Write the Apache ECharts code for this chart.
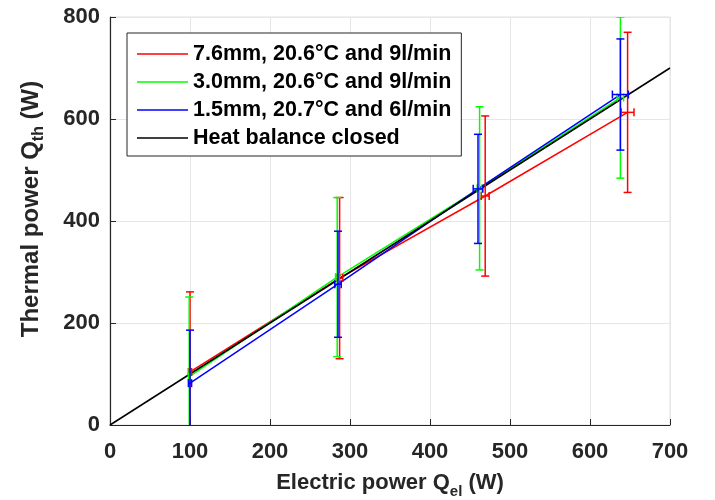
<!DOCTYPE html>
<html>
<head>
<meta charset="utf-8">
<script src="https://cdn.jsdelivr.net/npm/echarts@6/dist/echarts.min.js"></script>
<style>html,body{margin:0;padding:0;background:#fff;}#c{width:715px;height:500px;}</style>
</head>
<body>
<div id="c"></div>
<script>
// Series names
const names = ['7.6mm, 20.6°C and 9l/min', '3.0mm, 20.6°C and 9l/min', '1.5mm, 20.7°C and 6l/min', 'Heat balance closed'];
// Red: 7.6mm
const redX = [100, 287, 469, 647];
const redY = [104, 288, 449, 613];
const redYErr = [157, 158, 157, 157];
const redXErr = [2, 4, 5, 8];
// Green: 3.0mm
const greenX = [99, 284, 462, 638];
const greenY = [95, 290, 464, 642];
const greenYErr = [156, 156, 160, 158];
const greenXErr = [1, 2, 3, 4];
// Blue: 1.5mm
const blueX = [100, 285, 460, 638];
const blueY = [82, 276, 463, 648];
const blueYErr = [104, 104, 107, 109];
const blueXErr = [2, 4, 6, 10];
// Heat balance closed line
const balanceX = [0, 700];
const balanceY = [0, 700];
// Axis ticks
const xTicks = [0, 100, 200, 300, 400, 500, 600, 700];
const yTicks = [0, 200, 400, 600, 800];

const FONT = 'Liberation Sans';
const TXT = '#262626';

function pairs(xs, ys) { return xs.map((x, i) => [x, ys[i]]); }
function errData(xs, ys, ye, xe) { return xs.map((x, i) => [x, ys[i], ye[i], xe[i]]); }

function errRender(color) {
  return function (params, api) {
    const x = api.value(0), y = api.value(1), ey = api.value(2), ex = api.value(3);
    const t = api.coord([x, y + ey]), b = api.coord([x, y - ey]);
    const l = api.coord([x - ex, y]), r = api.coord([x + ex, y]);
    const c = 4;
    const st = { stroke: color, lineWidth: 1.5 };
    const ln = (x1, y1, x2, y2) => ({ type: 'line', shape: { x1, y1, x2, y2 }, style: st });
    return {
      type: 'group',
      children: [
        ln(t[0], t[1], b[0], b[1]),
        ln(t[0] - c, t[1], t[0] + c, t[1]),
        ln(b[0] - c, b[1], b[0] + c, b[1]),
        ln(l[0], l[1], r[0], r[1]),
        ln(l[0], l[1] - c, l[0], l[1] + c),
        ln(r[0], r[1] - c, r[0], r[1] + c)
      ]
    };
  };
}

const colors = ['#ff0000', '#00ff00', '#0000ff', '#000000'];
const lineSeries = (name, data, color) => ({
  name, type: 'line', data, symbol: 'none', showSymbol: false,
  lineStyle: { color, width: 1.5 }, itemStyle: { color }, z: 3, animation: false
});
const errSeries = (data, color) => ({
  type: 'custom', data, renderItem: errRender(color), clip: true, z: 4, animation: false,
  encode: { x: 0, y: 1 }
});

const chart = echarts.init(document.getElementById('c'));
chart.setOption({
  animation: false,
  backgroundColor: '#fff',
  grid: { left: 110, right: 45, top: 17, bottom: 75, show: true, borderColor: '#e0e0e0', borderWidth: 1, containLabel: false, outerBoundsMode: 'none' },
  xAxis: {
    type: 'value', min: xTicks[0], max: xTicks[xTicks.length - 1], interval: 100,
    name: '{a|Electric power Q}{s|el}{a| (W)}', nameLocation: 'middle', nameGap: 47,
    nameTextStyle: {
      rich: {
        a: { fontFamily: FONT, fontWeight: 'bold', fontSize: 22, color: TXT, verticalAlign: 'top', lineHeight: 24 },
        s: { fontFamily: FONT, fontWeight: 'bold', fontSize: 15, color: TXT, verticalAlign: 'top', lineHeight: 24, padding: [12, 0, 0, 0] }
      }
    },
    axisLine: { show: true, onZero: false, lineStyle: { color: TXT, width: 1.2 } },
    axisTick: { show: true, inside: true, length: 6, lineStyle: { color: TXT } },
    axisLabel: { fontFamily: FONT, fontWeight: 'bold', fontSize: 22, color: TXT, margin: 16 },
    splitLine: { show: true, lineStyle: { color: '#e6e6e6', width: 1 } }
  },
  yAxis: {
    type: 'value', min: yTicks[0], max: yTicks[yTicks.length - 1], interval: 200,
    name: '{a|Thermal power Q}{s|th}{a| (W)}', nameLocation: 'middle', nameGap: 66, nameRotate: 90,
    nameTextStyle: {
      padding: [0, 0, 0, 24],
      rich: {
        a: { fontFamily: FONT, fontWeight: 'bold', fontSize: 24, color: TXT, verticalAlign: 'top', lineHeight: 25 },
        s: { fontFamily: FONT, fontWeight: 'bold', fontSize: 16, color: TXT, verticalAlign: 'top', lineHeight: 25, padding: [12, 0, 0, 0] }
      }
    },
    axisLine: { show: true, onZero: false, lineStyle: { color: TXT, width: 1.2 } },
    axisTick: { show: true, inside: true, length: 6, lineStyle: { color: TXT } },
    axisLabel: { fontFamily: FONT, fontWeight: 'bold', fontSize: 22, color: TXT, margin: 10 },
    splitLine: { show: true, lineStyle: { color: '#e6e6e6', width: 1 } }
  },
  legend: {
    orient: 'vertical', left: 127, top: 33,
    data: names,
    icon: 'rect',
    backgroundColor: '#fff', borderColor: TXT, borderWidth: 1, borderRadius: 0,
    padding: [10, 10, 7, 10], itemGap: 6, itemWidth: 51, itemHeight: 1.5,
    textStyle: { fontFamily: FONT, fontWeight: 'bold', fontSize: 21.5, color: '#000', lineHeight: 22 },
    z: 10
  },
  series: [
    lineSeries(names[0], pairs(redX, redY), colors[0]),
    lineSeries(names[1], pairs(greenX, greenY), colors[1]),
    lineSeries(names[2], pairs(blueX, blueY), colors[2]),
    lineSeries(names[3], pairs(balanceX, balanceY), colors[3]),
    errSeries(errData(redX, redY, redYErr, redXErr), colors[0]),
    errSeries(errData(greenX, greenY, greenYErr, greenXErr), colors[1]),
    errSeries(errData(blueX, blueY, blueYErr, blueXErr), colors[2])
  ]
});
</script>
</body>
</html>
